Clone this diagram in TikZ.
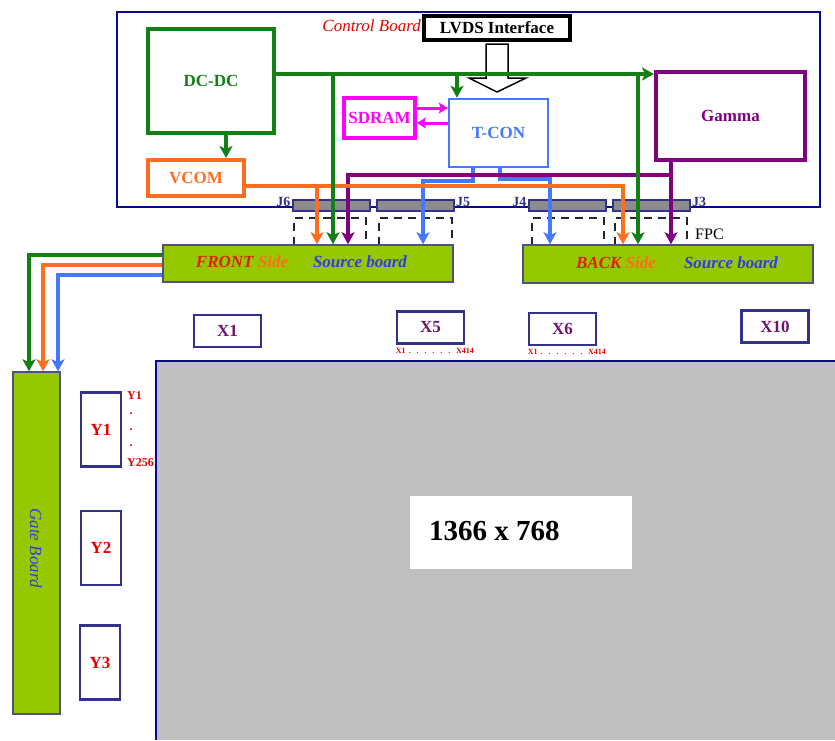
\documentclass[tikz,border=0pt]{standalone}
\usepackage{fontspec}
\setmainfont{Liberation Serif}
\usetikzlibrary{arrows.meta}

\definecolor{boardblue}{RGB}{10,10,140}
\definecolor{boxblue}{RGB}{50,50,140}
\definecolor{dcgreen}{RGB}{20,128,20}
\definecolor{vcomorange}{RGB}{255,110,30}
\definecolor{tconblue}{RGB}{70,120,255}
\definecolor{srcblue}{RGB}{50,60,230}
\definecolor{sdrammag}{RGB}{255,0,255}
\definecolor{gampurple}{RGB}{128,0,128}
\definecolor{srclime}{RGB}{150,200,0}
\definecolor{srcedge}{RGB}{80,80,130}
\definecolor{panelgrey}{RGB}{192,192,192}
\definecolor{jgrey}{RGB}{140,140,140}
\definecolor{labred}{RGB}{230,0,0}
\definecolor{frontred}{RGB}{225,30,0}
\definecolor{xpurple}{RGB}{110,20,110}

\newcommand{\fsz}[1]{\fontsize{#1}{#1}\selectfont}

\begin{document}
\begin{tikzpicture}[x=1pt,y=-1pt,
  every node/.style={inner sep=0pt,font=\fsz{17}\bfseries},
  blk/.style={draw,line width=4pt,fill=white},
  busline/.style={line width=4pt,-{Stealth[length=12pt,width=13pt,inset=3pt]}},
  memline/.style={line width=3pt,sdrammag,-{Stealth[length=9pt,width=11pt,inset=2pt]}},
  xbox/.style={draw=boxblue,line width=2.5pt,minimum width=67pt,minimum height=32pt,text=xpurple},
  ybox/.style={draw=boxblue,line width=2.5pt,minimum width=40pt,minimum height=74pt,text=labred},
  jconn/.style={draw=boxblue,line width=2pt,fill=jgrey,minimum width=77pt,minimum height=11pt},
  jlab/.style={font=\fsz{14}\bfseries,text=boxblue,inner sep=1pt},
  srcboard/.style={draw=srcedge,line width=1.5pt,fill=srclime},
  srclab/.style={font=\fsz{17}\bfseries\itshape},
  fpcline/.style={black!85,line width=1.2pt,dash pattern=on 8pt off 6pt},
  xspan/.style={font=\fsz{8}\bfseries,text=labred},
  yspan/.style={font=\fsz{12}\bfseries,text=labred}]
  \useasboundingbox (0,0) rectangle (835,740);

  % row range of Y1 (partly hidden by the panel)
  \node[yspan,anchor=west] (yr1) at (127,396) {Y1};
  \foreach \i/\yy in {1/414,2/430,3/446}
    \node[yspan] (yd\i) at (131,\yy) {.};
  \node[yspan,anchor=west] (yr2) at (127,463) {Y256};

  % panel
  \fill[panelgrey] (156,361) rectangle (835,740);
  \draw[boardblue,line width=2.5pt] (156,740) -- (156,361) -- (835,361);
  \node[fill=white,minimum width=222pt,minimum height=73pt] (res) at (521,532.5) {};
  \node[font=\fsz{29}\bfseries,anchor=west] (reslab) at (429,531) {1366 x 768};

  % control board
  \draw[boardblue,line width=2pt] (117,12) rectangle (820,207);
  \node[blk,draw=black,minimum width=146pt,minimum height=24pt] (lvds) at (497,28) {LVDS Interface};
  \node[font=\fsz{17}\itshape,text=labred,anchor=east] (ctrl) at ([xshift=-1pt,yshift=2pt]lvds.west) {Control Board};
  \node[blk,draw=dcgreen,text=dcgreen,minimum width=126pt,minimum height=104pt] (dcdc) at (211,81) {DC-DC};
  \node[blk,draw=vcomorange,text=vcomorange,minimum width=96pt,minimum height=36pt] (vcom) at (196,178) {VCOM};
  \node[blk,draw=sdrammag,text=sdrammag,minimum width=71pt,minimum height=40pt] (sdram) at (379.5,118) {SDRAM};
  \node[blk,draw=tconblue,text=tconblue,line width=2.5pt,minimum width=99pt,minimum height=68pt] (tcon) at (498.5,133) {T-CON};
  \node[blk,draw=gampurple,text=gampurple,minimum width=149pt,minimum height=88pt] (gamma) at (730.5,116) {Gamma};

  % LVDS input
  \draw[line width=1.5pt,fill=white] ([shift={(-11,2)}]lvds.south) -- ++(0,34) -- ++(-17,0)
    -- ++(28,14) -- ++(29,-14) -- ++(-18,0) -- ++(0,-34) -- cycle;

  % connectors and FPC
  \foreach \xa/\xb in {294/366,379/452,532/604,615/687}
    \draw[fpcline] (\xa,245) -- (\xa,218) -- (\xb,218) -- (\xb,245);
  \foreach \nm/\cx in {j6/331,j5/415.5,j4/567,j3/651.5}
    \node[jconn] (\nm) at (\cx,205.5) {};
  \node[jlab,anchor=east] (j6lab) at ([yshift=4pt]j6.west) {J6};
  \node[jlab,anchor=west] (j5lab) at ([yshift=4pt]j5.east) {J5};
  \node[jlab,anchor=east] (j4lab) at ([yshift=4pt]j4.west) {J4};
  \node[jlab,anchor=west] (j3lab) at ([yshift=4pt]j3.east) {J3};
  \node[font=\fsz{16},anchor=west] (fpc) at (695,234) {FPC};

  % source boards
  \node[srcboard,minimum width=290pt,minimum height=37pt] (front) at (308,263.5) {};
  \node[srcboard,minimum width=290pt,minimum height=38pt] (back) at (668,264) {};
  \node[srclab] (frontlab) at (242,262) {\textcolor{frontred}{FRONT} \textcolor{vcomorange}{Side}};
  \node[srclab,text=srcblue] (frontsrc) at (360,262) {Source board};
  \node[srclab] (backlab) at (616,263) {\textcolor{frontred}{BACK} \textcolor{vcomorange}{Side}};
  \node[srclab,text=srcblue] (backsrc) at (731,263) {Source board};

  % gate board
  \node[srcboard,minimum width=47pt,minimum height=342pt] (gate) at (36.5,543) {};
  \node[font=\fsz{17}\itshape,text=srcblue,rotate=-90] (gatelab) at (36,548) {Gate Board};

  % columns and rows
  \node[xbox] (x1) at (227.5,331) {X1};
  \node[xbox] (x5) at (430.5,327.5) {X5};
  \node[xbox] (x6) at (562.5,329) {X6};
  \node[xbox] (x10) at (775,326.5) {X10};
  \node[xspan,anchor=north west] (x5r) at ([yshift=-3pt]x5.south west) {\makebox[78pt][s]{X1 . . . . . . X414}};
  \node[xspan,anchor=north west] (x6r) at ([yshift=-3pt]x6.south west) {\makebox[78pt][s]{X1 . . . . . . X414}};
  \node[ybox] (y1) at (101,429.5) {Y1};
  \node[ybox] (y2) at (101,548) {Y2};
  \node[ybox] (y3) at (100,662.5) {Y3};

  % T-CON data
  \coordinate (blt) at (473,181); \coordinate (bl) at (423,181);
  \coordinate (brt) at (500,179); \coordinate (br) at (550,179);
  \draw[busline,tconblue] (tcon.south -| blt) -- (blt) -- (bl) -- (bl |- front.north);
  \draw[busline,tconblue] (tcon.south -| brt) -- (brt) -- (br) -- (br |- back.north);

  % gamma
  \coordinate (pr) at (671,175); \coordinate (pl) at (348,175);
  \draw[busline,gampurple] (gamma.south -| pr) -- (pr |- back.north);
  \draw[busline,gampurple] ([xshift=2pt]pr) -- (pl) -- (pl |- front.north);

  % VCOM
  \coordinate (vr) at (623,186); \coordinate (vl) at (317,186);
  \draw[busline,vcomorange] (vcom.east |- vr) -- (vr) -- (vr |- back.north);
  \draw[busline,vcomorange] (vl) -- (vl |- front.north);

  % SDRAM
  \coordinate (mu) at ([yshift=10pt]sdram.east);
  \coordinate (md) at ([yshift=-5pt]sdram.east);
  \draw[memline] (mu) -- (mu -| tcon.west);
  \draw[memline] (md -| tcon.west) -- (md);

  % power
  \coordinate (dv) at (226,0);
  \coordinate (g1) at (333,74); \coordinate (g2) at (457,74); \coordinate (g3) at (638,74);
  \draw[busline,dcgreen] (dv |- dcdc.south) -- (dv |- vcom.north);
  \draw[busline,dcgreen] (dcdc.east |- g1) -- (gamma.west |- g1);
  \draw[busline,dcgreen] (g1) -- (g1 |- front.north);
  \draw[busline,dcgreen] (g2) -- (g2 |- tcon.north);
  \draw[busline,dcgreen] (g3) -- (g3 |- back.north);

  % front board to gate board
  \coordinate (gg) at (29,255); \coordinate (go) at (43,265); \coordinate (gb) at (58,275);
  \draw[busline,dcgreen] (front.west |- gg) -- (gg) -- (gg |- gate.north);
  \draw[busline,vcomorange] (front.west |- go) -- (go) -- (go |- gate.north);
  \draw[busline,tconblue] (front.west |- gb) -- (gb) -- (gb |- gate.north);
\end{tikzpicture}
\end{document}
